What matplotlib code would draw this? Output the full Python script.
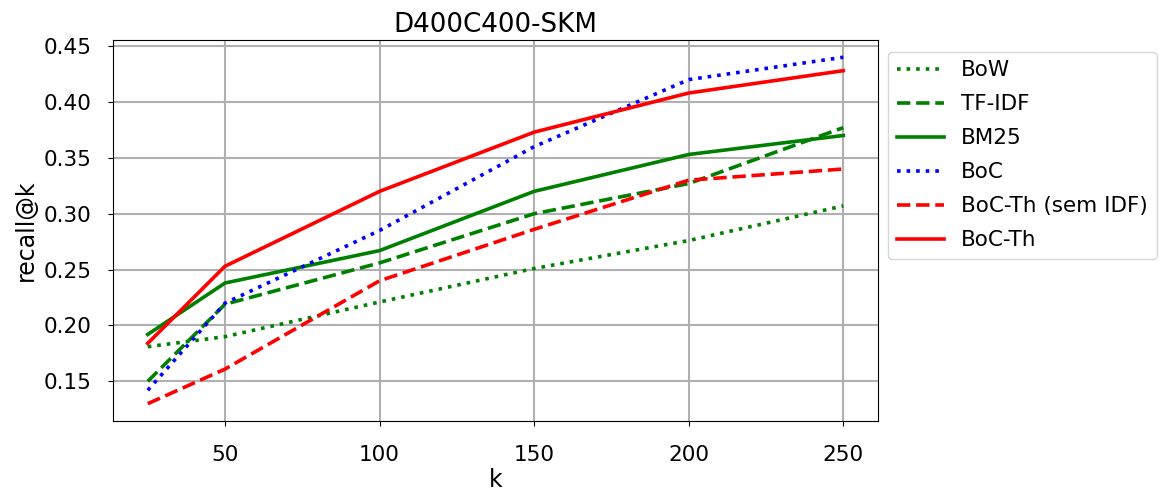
import numpy as np
import matplotlib
matplotlib.use('Agg')
import matplotlib.pyplot as plt

k = [25, 50, 100, 150, 200, 250]

bow = [0.181, 0.190, 0.221, 0.251, 0.276, 0.307]
tfidf = [0.150, 0.219, 0.256, 0.300, 0.327, 0.377]
bm25 = [0.192, 0.238, 0.267, 0.320, 0.353, 0.370]
boc = [0.142, 0.220, 0.285, 0.360, 0.420, 0.440]
boc_th_noidf = [0.130, 0.161, 0.240, 0.286, 0.330, 0.340]
boc_th = [0.184, 0.253, 0.320, 0.373, 0.408, 0.428]

plt.rcParams['font.size'] = 15

fig = plt.figure(figsize=(11.61, 4.93), dpi=100)
ax = fig.add_axes([0.0973, 0.146, 0.659, 0.773])

ax.plot(k, bow, color='green', linestyle=':', linewidth=2.6, label='BoW')
ax.plot(k, tfidf, color='green', linestyle='--', linewidth=2.6, label='TF-IDF')
ax.plot(k, bm25, color='green', linestyle='-', linewidth=2.6, label='BM25')
ax.plot(k, boc, color='blue', linestyle=':', linewidth=2.6, label='BoC')
ax.plot(k, boc_th_noidf, color='red', linestyle='--', linewidth=2.6, label='BoC-Th (sem IDF)')
ax.plot(k, boc_th, color='red', linestyle='-', linewidth=2.6, label='BoC-Th')

ax.set_title('D400C400-SKM', fontsize=18.8)
ax.set_xlabel('k', fontsize=17, labelpad=2)
ax.set_ylabel('recall@k', fontsize=17, labelpad=4)
ax.set_xticks([50, 100, 150, 200, 250])
ax.set_yticks([0.15, 0.20, 0.25, 0.30, 0.35, 0.40, 0.45])
ax.tick_params(axis='x', pad=14, labelsize=15.5)
ax.tick_params(axis='y', pad=12, labelsize=15.5)
ax.grid(True, color='#b0b0b0', linewidth=1.5)
ax.legend(loc='upper left', bbox_to_anchor=(1.013, 0.969), borderaxespad=0,
          fontsize=15.5, handlelength=2.2, handletextpad=0.8, labelspacing=0.65)

plt.savefig('out.png', dpi=100)
